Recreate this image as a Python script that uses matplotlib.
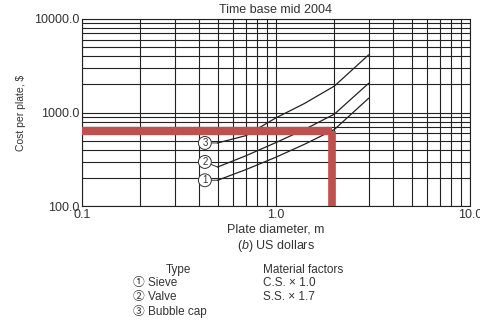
import matplotlib.pyplot as plt
from matplotlib.ticker import FixedLocator, NullFormatter, LogLocator

plt.rcParams['font.family'] = ['Liberation Sans', 'Noto Sans CJK SC', 'DejaVu Sans']
plt.rcParams['mathtext.fontset'] = 'custom'
plt.rcParams['mathtext.it'] = 'Liberation Sans:italic'
plt.rcParams['mathtext.rm'] = 'Liberation Sans'

# Cost curves (plate diameter m -> cost per plate $)
diameter = [0.5, 0.7, 1.0, 1.4, 2.0, 3.0]
sieve = [190, 247, 335, 459, 661, 1420]
valve = [263, 347, 480, 660, 964, 2050]
bubble_cap = [475, 569, 880, 1250, 1920, 4120]
curve_labels = ['1', '2', '3']
label_values = [190, 298, 475]

# red read-off lines
read_diameter = 1.95
read_cost = 637

x_ticks = [0.1, 1.0, 10.0]
y_ticks = [100, 1000, 10000]

fig = plt.figure(figsize=(4.81, 3.2), dpi=100)
ax = fig.add_axes([0.1705, 0.355, 0.8065, 0.586])
ax.set_xscale('log')
ax.set_yscale('log')
ax.set_xlim(0.1, 10)
ax.set_ylim(100, 10000)

ax.xaxis.set_major_locator(FixedLocator(x_ticks))
ax.yaxis.set_major_locator(FixedLocator(y_ticks))
ax.xaxis.set_minor_locator(LogLocator(base=10, subs=range(2, 10)))
ax.yaxis.set_minor_locator(LogLocator(base=10, subs=range(2, 10)))
ax.xaxis.set_minor_formatter(NullFormatter())
ax.yaxis.set_minor_formatter(NullFormatter())
ax.set_xticklabels(['%.1f' % v for v in x_ticks])
ax.set_yticklabels(['%.1f' % v for v in y_ticks])
ax.tick_params(which='both', length=0, labelsize=9, colors='#333333', pad=2)
ax.grid(True, which='both', color='#222222', linewidth=0.8)
for s in ax.spines.values():
    s.set_color('#222222')
    s.set_linewidth(0.8)

for ys in [sieve, valve, bubble_cap]:
    ax.plot(diameter, ys, color='#222222', linewidth=0.9, zorder=3)

for lab, lv, ys in zip(curve_labels, label_values, [sieve, valve, bubble_cap]):
    ax.annotate(lab, xy=(diameter[0], ys[0]), xytext=(0.43, lv),
                ha='center', va='center', fontsize=7, color='#333333',
                bbox=dict(boxstyle='circle,pad=0.15', fc='white', ec='#333333', lw=0.7),
                arrowprops=dict(arrowstyle='-', color='#333333', lw=0.7,
                                shrinkA=0, shrinkB=0), zorder=4)

red = '#C0504D'
ax.plot([0.1, read_diameter], [read_cost, read_cost], color=red, linewidth=6,
        solid_capstyle='butt', zorder=5)
ax.plot([read_diameter, read_diameter], [read_cost, 100], color=red, linewidth=5.5,
        solid_capstyle='butt', zorder=5, clip_on=False)

ax.set_title('Time base mid 2004', fontsize=9, color='#333333', pad=4)
ax.set_ylabel('Cost per plate, $', fontsize=7.5, color='#333333', labelpad=6)
ax.set_xlabel('Plate diameter, m', fontsize=9, color='#333333', labelpad=2)

fig.text(0.574, 0.232, r'($\it{b}$) US dollars', fontsize=9, color='#333333',
         ha='center', va='center')

fig.text(0.37, 0.156, 'Type', fontsize=8.5, color='#333333', ha='center', va='center')
legend_rows = ['\u2460 Sieve', '\u2461 Valve', '\u2462 Bubble cap']
for i, t in enumerate(legend_rows):
    fig.text(0.277, 0.116 - i * 0.045, t, fontsize=8.5, color='#333333', ha='left', va='center')
fig.text(0.547, 0.156, 'Material factors', fontsize=8.5, color='#333333', ha='left', va='center')
fig.text(0.547, 0.116, 'C.S. \u00d7 1.0', fontsize=8.5, color='#333333', ha='left', va='center')
fig.text(0.547, 0.071, 'S.S. \u00d7 1.7', fontsize=8.5, color='#333333', ha='left', va='center')

fig.savefig('out.png', dpi=100)
